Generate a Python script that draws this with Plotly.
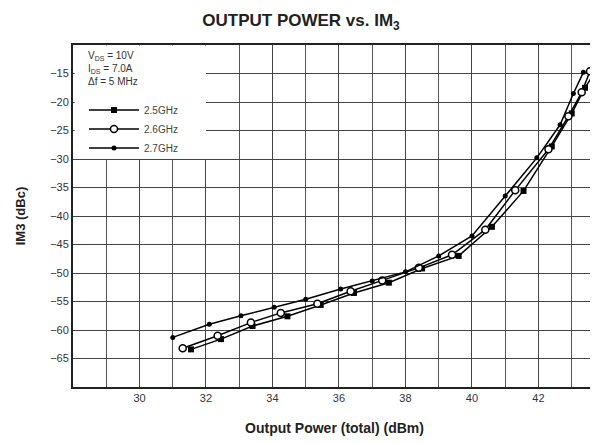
import plotly.graph_objects as go

# output power (dBm) and IM3 (dBc)
pout_25 = [31.55, 32.45, 33.4, 34.45, 35.45, 36.45, 37.5, 38.5, 39.6, 40.6, 41.55, 42.4, 43.0, 43.4, 43.65]
im3_25 = [-63.4, -61.6, -59.3, -57.6, -55.6, -53.5, -51.7, -49.2, -47.0, -41.9, -35.6, -27.8, -22.0, -17.5, -15.2]

pout_26 = [31.3, 32.35, 33.35, 34.25, 35.35, 36.35, 37.3, 38.4, 39.4, 40.4, 41.3, 42.3, 42.9, 43.3, 43.55]
im3_26 = [-63.2, -61.0, -58.7, -57.0, -55.4, -53.2, -51.3, -49.1, -46.8, -42.4, -35.5, -28.3, -22.5, -18.3, -14.6]

pout_27 = [31.0, 32.1, 33.05, 34.05, 35.0, 36.05, 37.0, 38.0, 39.0, 40.0, 41.0, 41.95, 42.65, 43.05, 43.35]
im3_27 = [-61.3, -59.0, -57.5, -56.0, -54.6, -52.8, -51.4, -49.8, -47.0, -43.5, -36.5, -29.8, -24.0, -18.5, -14.8]

x_ticks = [30, 32, 34, 36, 38, 40, 42]
y_ticks = [-15, -20, -25, -30, -35, -40, -45, -50, -55, -60, -65]

FONT = "Liberation Sans, Arial, sans-serif"

fig = go.Figure()

fig.add_trace(go.Scatter(
    x=pout_25, y=im3_25, name="2.5GHz", mode="lines+markers",
    line=dict(color="black", width=1.5),
    marker=dict(symbol="square", size=6, color="black")
))
fig.add_trace(go.Scatter(
    x=pout_26, y=im3_26, name="2.6GHz", mode="lines+markers",
    line=dict(color="black", width=1.5),
    marker=dict(symbol="circle", size=7, color="white", line=dict(color="black", width=1.5))
))
fig.add_trace(go.Scatter(
    x=pout_27, y=im3_27, name="2.7GHz", mode="lines+markers",
    line=dict(color="black", width=1.5),
    marker=dict(symbol="circle", size=5, color="black")
))

# white patch behind the conditions / legend block
fig.add_shape(type="rect", xref="x", yref="y", x0=28.05, x1=32, y0=-30, y1=-10.1,
              fillcolor="white", line=dict(width=0), layer="above")

fig.add_annotation(
    xref="paper", yref="paper", x=0.024, y=0.991, xanchor="left", yanchor="top",
    align="left", showarrow=False,
    text="V<sub>DS</sub> = 10V<br>I<sub>DS</sub> = 7.0A<br>\u0394f = 5 MHz",
    font=dict(family=FONT, size=10, color="#333")
)

fig.update_layout(
    width=598, height=443,
    margin=dict(l=65, r=8, t=37, b=64),
    paper_bgcolor="white", plot_bgcolor="white",
    font=dict(family=FONT, color="#333"),
    title=dict(text="<b>OUTPUT POWER vs. IM<sub>3</sub></b>", x=0.49, xanchor="center",
               y=0.972, yanchor="middle", font=dict(size=17, color="#222")),
    showlegend=True,
    legend=dict(x=0.021, y=0.852, xanchor="left", yanchor="top", bgcolor="rgba(0,0,0,0)",
                font=dict(size=10, color="#444"), tracegroupgap=0, itemwidth=50),
    xaxis=dict(
        range=[28, 43.73], tickvals=x_ticks, ticks="", showgrid=True,
        gridcolor="#444", gridwidth=1.4,
        minor=dict(dtick=1, tick0=0, showgrid=True, gridcolor="#555", gridwidth=1.1),
        showline=True, linecolor="#222", linewidth=2, mirror=True,
        tickfont=dict(size=11, color="#333"), zeroline=False,
        title=dict(text="<b>Output Power (total) (dBm)</b>", font=dict(size=14, color="#222"), standoff=20)
    ),
    yaxis=dict(
        range=[-70, -10], tickvals=y_ticks, ticks="", showgrid=True,
        gridcolor="#444", gridwidth=1.4,
        showline=True, linecolor="#222", linewidth=2, mirror=True,
        tickfont=dict(size=11, color="#333"), zeroline=False,
        title=dict(text="<b>IM3 (dBc)</b>", font=dict(size=13, color="#222"), standoff=22)
    ),
)

fig.write_html("out.html")
